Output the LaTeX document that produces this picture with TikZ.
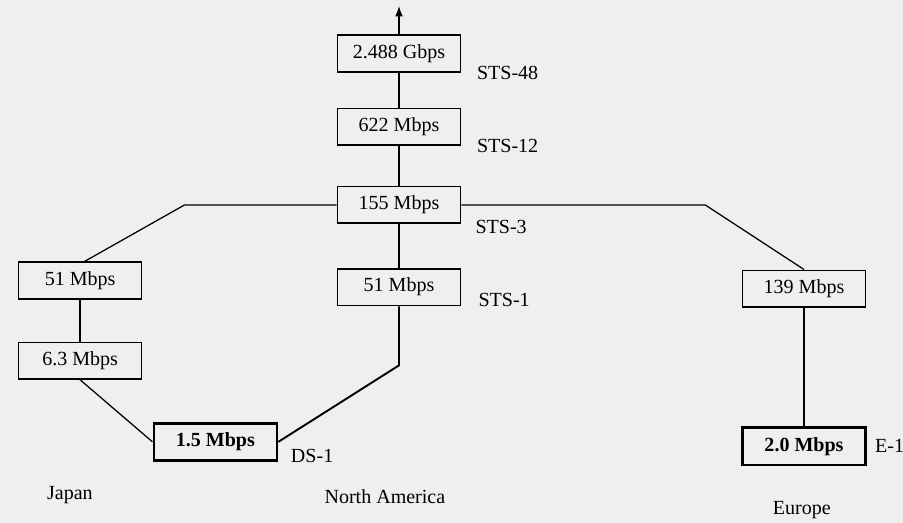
\documentclass[tikz,border=0pt]{standalone}
\usepackage{fontspec}
\setmainfont{Liberation Serif}
\usetikzlibrary{arrows.meta, positioning}
\definecolor{paper}{RGB}{239,239,239}

\begin{document}
\begin{tikzpicture}[
  rate/.style={rectangle, draw, line width=1.5pt, minimum width=4.1cm, minimum height=1.22cm, inner sep=2pt, fill=paper},
  base/.style={rectangle, draw, line width=2.6pt, minimum width=4.1cm, minimum height=1.25cm, inner sep=2pt, fill=paper, font=\fontsize{19}{22}\selectfont\bfseries},
  every node/.style={font=\fontsize{19}{22}\selectfont},
  link/.style={line width=1.2pt},
  up/.style={-{Latex[length=3.5mm, width=2.6mm]}, line width=1.2pt}
]

\fill[paper] (0,0) rectangle (30.1,-17.433);
\useasboundingbox (0,0) rectangle (30.1,-17.433);

% ------------------------------------------------------------
% SONET hierarchy (North America)
% ------------------------------------------------------------

\node[rate] (m155) at (13.3,-6.83) {155 Mbps};
\node[rate, above=1.33cm of m155] (m622) {622 Mbps};
\node[rate, above=1.17cm of m622] (g2488) {2.488 Gbps};
\node[rate, below=1.47cm of m155] (na51) {51 Mbps};

\node[right=0.4cm of g2488.south east] (sts48) {STS-48};
\node[right=0.4cm of m622.south east] (sts12) {STS-12};
\node[right=0.35cm of m155.south east, yshift=-0.1cm] (sts3) {STS-3};
\node[right=0.45cm of na51.south east, yshift=0.2cm] (sts1) {STS-1};

\coordinate[above=0.95cm of g2488.north] (top);
\coordinate[below=1.97cm of na51.south] (nabend);

\draw[up] (g2488) -- (top);
\draw[link] (m622) -- (g2488);
\draw[link] (m155) -- (m622);
\draw[link] (m155) -- (na51);

% ------------------------------------------------------------
% Japan
% ------------------------------------------------------------

\node[rate] (jp51) at (2.67,-9.35) {51 Mbps};
\node[rate, below=1.4cm of jp51] (jp63) {6.3 Mbps};
\node[base] (ds1) at (7.18,-14.73) {1.5 Mbps};
\node[right=0.3cm of ds1.south east, yshift=0.2cm] (ds1lab) {DS-1};

\coordinate[left=5.07cm of m155.west] (jpbend);

\draw[link] (m155.west) -- (jpbend) -- ([xshift=0.15cm]jp51.north);
\draw[link] (jp51) -- (jp63);
\draw[link] (jp63.south) -- (ds1.west);
\draw[line width=1.8pt] (na51.south) -- (nabend) -- (ds1.east);

% ------------------------------------------------------------
% Europe
% ------------------------------------------------------------

\node[rate] (eu139) at (26.8,-9.62) {139 Mbps};
\node[base, below=3.95cm of eu139] (e1) {2.0 Mbps};
\node[right=0.15cm of e1.east] (e1lab) {E-1};

\coordinate[right=8.13cm of m155.east] (eubend);

\draw[link] (m155.east) -- (eubend) -- (eu139.north);
\draw[link] (eu139) -- (e1);

% ------------------------------------------------------------
% Regions
% ------------------------------------------------------------

\node (japan) at (2.33,-16.5) {Japan};
\node (namerica) at (12.83,-16.55) {North America};
\node (europe) at (26.73,-17.0) {Europe};

\end{tikzpicture}
\end{document}
